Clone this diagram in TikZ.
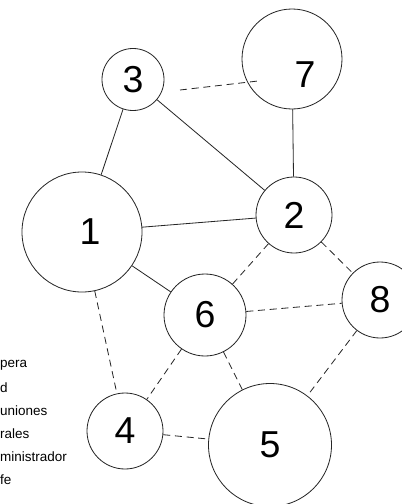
\documentclass[tikz,border=0pt]{standalone}
\usepackage{fontspec}
\setmainfont{Liberation Sans}
\usepackage{tikz}
\usetikzlibrary{positioning}

\begin{document}
\begin{tikzpicture}[x=0.03cm,y=-0.03cm,
    actor/.style={circle,draw=black!85,line width=0.7pt,inner sep=0pt,
      font=\fontsize{32}{32}\selectfont},
    numlab/.style={inner sep=0pt,font=\fontsize{32}{32}\selectfont},
    tie/.style={draw=black!85,line width=0.7pt},
    weak/.style={tie,dash pattern=on 6pt off 4pt},
    legend/.style={anchor=west,inner sep=0pt,font=\fontsize{11.5}{12}\selectfont}]
  % frame of the picture, in pixels
  \useasboundingbox (0,0) rectangle (402,504);
  \clip (0,0) rectangle (402,504);
  % actors
  \node[actor,minimum size=3.6cm,
    label={[numlab,xshift=0.24cm]center:1}] (n1) at (82,232) {};
  \node[actor,minimum size=2.28cm] (n2) at (294,215)  {2};
  \node[actor,minimum size=1.86cm] (n3) at (133,79.5) {3};
  \node[actor,minimum size=2.28cm] (n4) at (125,431)  {4};
  \node[actor,minimum size=3.69cm] (n5) at (270,445)  {5};
  \node[actor,minimum size=2.46cm] (n6) at (205,315)  {6};
  \node[actor,minimum size=3.0cm,
    label={[numlab,xshift=0.39cm,yshift=-0.46cm]center:7}] (n7) at (292,59) {};
  \node[actor,minimum size=2.28cm] (n8) at (380,300)  {8};
  % strong ties
  \draw[tie] (n3) -- (n1);
  \draw[tie] (n3) -- (n2);
  \draw[tie] (n7) -- (n2);
  \draw[tie] (n1) -- (n2);
  \draw[tie] (n1) -- (n6);
  % weak ties
  \coordinate (a3) at (180,90);
  \coordinate (a7) at (258,81);
  \draw[weak] (a3) -- (a7);
  \draw[weak] (n2) -- (n6);
  \draw[weak] (n2) -- (n8);
  \draw[weak] (n6) -- (n8);
  \draw[weak] (n1) -- (n4);
  \draw[weak] (n6) -- (n4);
  \draw[weak] (n6) -- (n5);
  \draw[weak] (n8) -- (n5);
  \draw[weak] (n4) -- (n5);
  % legend (cut at the left edge)
  \node[legend] (l1) at (0,365) {pera};
  \node[legend] (l2) at (0,388) {d};
  \node[legend] (l3) at (0,411) {uniones};
  \node[legend] (l4) at (0,434) {rales};
  \node[legend] (l5) at (0,457) {ministrador};
  \node[legend] (l6) at (0,480) {fe};
\end{tikzpicture}
\end{document}
